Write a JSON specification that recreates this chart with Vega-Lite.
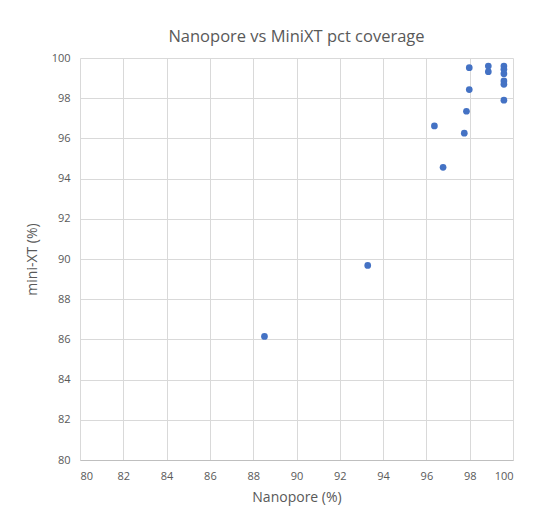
{
  "$schema": "https://vega.github.io/schema/vega-lite/v6.json",
  "autosize": {"type": "none"},
  "padding": {"left": 80, "top": 58, "right": 21, "bottom": 69},
  "width": 433,
  "height": 402,
  "background": "white",
  "title": {
    "text": "Nanopore vs MiniXT pct coverage",
    "font": "Open Sans",
    "fontSize": 16.5,
    "fontWeight": "normal",
    "color": "#595959",
    "anchor": "middle",
    "offset": 7
  },
  "data": {
    "values": [
      {"nanopore": 88.52, "minixt": 86.15},
      {"nanopore": 93.29, "minixt": 89.68},
      {"nanopore": 96.37, "minixt": 96.62},
      {"nanopore": 96.77, "minixt": 94.56},
      {"nanopore": 97.75, "minixt": 96.26},
      {"nanopore": 97.85, "minixt": 97.35},
      {"nanopore": 97.98, "minixt": 98.43},
      {"nanopore": 97.98, "minixt": 99.52},
      {"nanopore": 98.86, "minixt": 99.6},
      {"nanopore": 98.86, "minixt": 99.32},
      {"nanopore": 99.58, "minixt": 99.6},
      {"nanopore": 99.58, "minixt": 99.44},
      {"nanopore": 99.58, "minixt": 99.22},
      {"nanopore": 99.58, "minixt": 98.86},
      {"nanopore": 99.58, "minixt": 98.69},
      {"nanopore": 99.58, "minixt": 97.9}
    ]
  },
  "mark": {"type": "circle", "color": "#4472C4", "opacity": 1, "size": 45},
  "encoding": {
    "x": {
      "field": "nanopore",
      "type": "quantitative",
      "scale": {"domain": [80, 100], "nice": false, "zero": false},
      "axis": {
        "title": "Nanopore (%)",
        "values": [80, 82, 84, 86, 88, 90, 92, 94, 96, 98, 100],
        "grid": true,
        "gridColor": "#d9d9d9",
        "domainColor": "#bfbfbf",
        "ticks": false,
        "labelPadding": 10,
        "labelColor": "#595959",
        "labelFont": "Open Sans",
        "labelFontSize": 11,
        "titleFont": "Open Sans",
        "titleFontSize": 14,
        "titleFontWeight": "normal",
        "titleColor": "#595959",
        "titlePadding": 9
      }
    },
    "y": {
      "field": "minixt",
      "type": "quantitative",
      "scale": {"domain": [80, 100], "nice": false, "zero": false},
      "axis": {
        "title": "mini-XT (%)",
        "values": [80, 82, 84, 86, 88, 90, 92, 94, 96, 98, 100],
        "grid": true,
        "gridColor": "#d9d9d9",
        "domain": false,
        "ticks": false,
        "labelPadding": 10,
        "labelColor": "#595959",
        "labelFont": "Open Sans",
        "labelFontSize": 11,
        "titleFont": "Open Sans",
        "titleFontSize": 14,
        "titleFontWeight": "normal",
        "titleColor": "#595959",
        "titlePadding": 12
      }
    }
  },
  "config": {"view": {"stroke": null}}
}
